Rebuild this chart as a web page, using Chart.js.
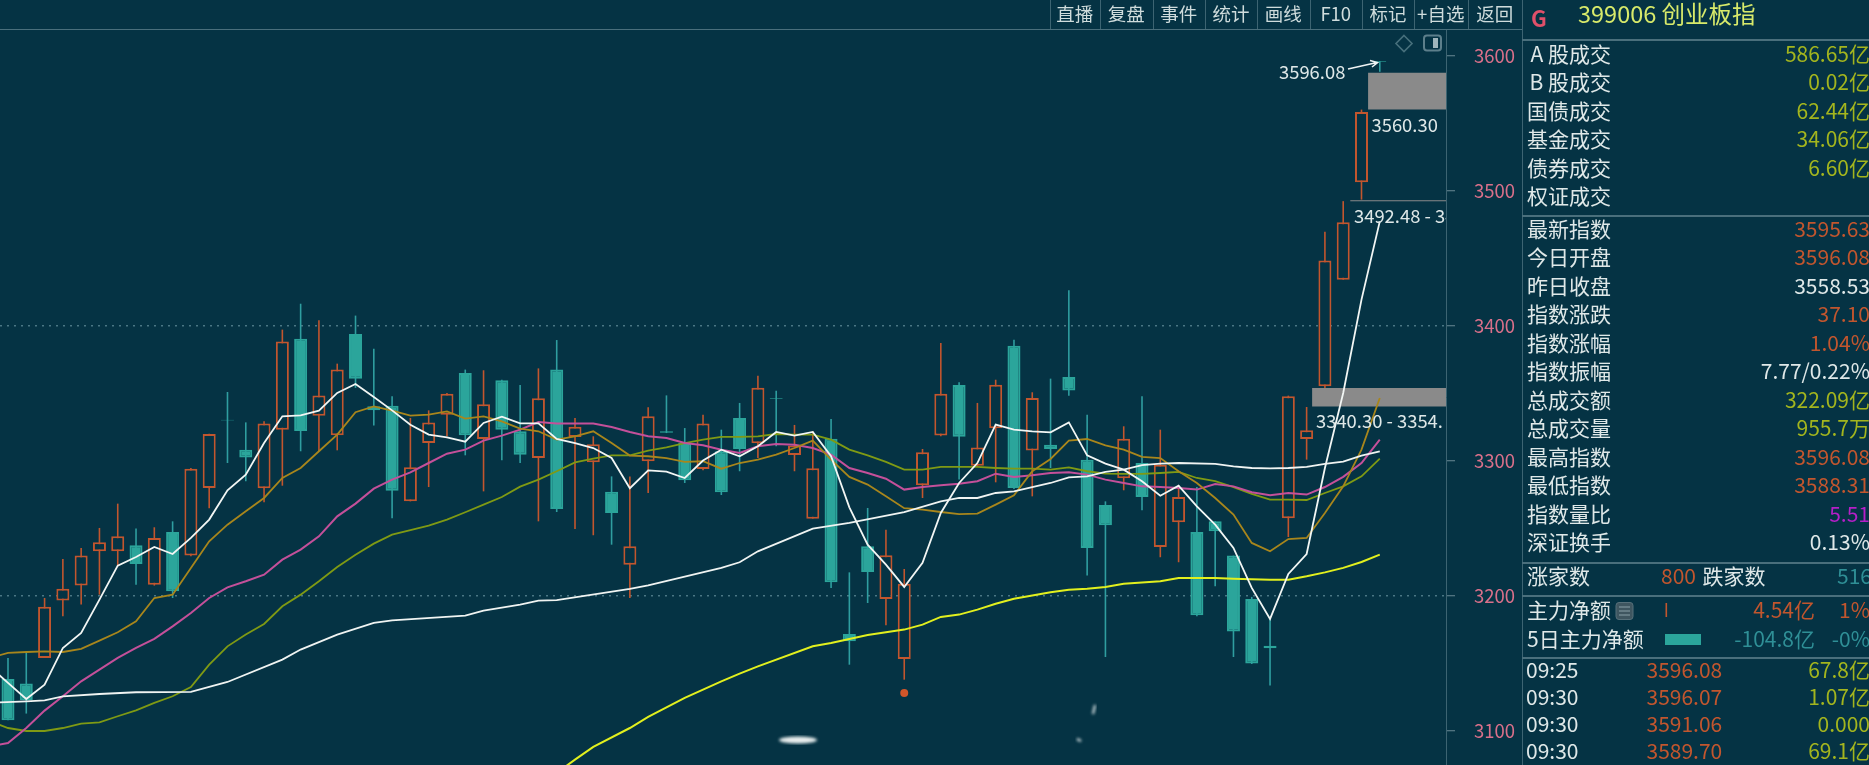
<!DOCTYPE html>
<html><head><meta charset="utf-8">
<script src="https://cdn.jsdelivr.net/npm/chart.js@4/dist/chart.umd.min.js"></script>
<style>
html,body{margin:0;padding:0;background:#053344;width:1869px;height:765px;overflow:hidden;font-family:"Noto Sans CJK SC","Noto Sans",sans-serif;}
canvas{position:absolute;left:0;top:0;}
.t{position:absolute;white-space:nowrap;line-height:1;transform:translateY(-50%);}
.hl{position:absolute;background:#4a6f7c;}
.vl{position:absolute;background:#3d6472;width:1px;}
</style></head><body>
<canvas id="c" width="1869" height="765"></canvas>
<div id="ui"></div>
<svg width="1869" height="765" style="position:absolute;left:0;top:0;pointer-events:none">
<defs><filter id="b"><feGaussianBlur stdDeviation="1.5"/></filter></defs>
<ellipse cx="798" cy="740" rx="19" ry="3.5" fill="#e8eeee" filter="url(#b)"/>
<path d="M1077 739 l4 2 M1095 705 l-2 9" stroke="#e8eeee" stroke-width="2" filter="url(#b)"/>
<path d="M1348 69 L1377 62.5 M1370 60.5 L1377.5 62.5 L1372 67" stroke="#eef3f3" stroke-width="1.6" fill="none"/>
<path d="M1404 35.5 L1412 43.5 L1404 51.5 L1396 43.5 Z" stroke="#47707c" stroke-width="1.6" fill="none"/>
<rect x="1424" y="35.5" width="17" height="15" rx="3" stroke="#5d7f8b" stroke-width="2" fill="none"/>
<rect x="1433" y="38" width="5" height="10" fill="#9fb4bb"/>
<rect x="1616" y="602.5" width="17" height="17" rx="3" fill="#3f5660" stroke="#57707a"/>
<path d="M1619 607 h11 M1619 611 h11 M1619 615 h11" stroke="#8aa0a8" stroke-width="1"/>
<rect x="1665.5" y="603" width="1.6" height="14" fill="#c2562e"/>
<rect x="1665" y="634" width="36" height="11" fill="#2ba59b"/>
</svg>
<script>
const opens=[3138.5,3135.1,3154.1,3196.6,3207.7,3233.1,3233.1,3237.5,3208.4,3247.4,
3229.9,3280,3330.6,3308.4,3279.8,3323.2,3390.6,3333.6,3319,3394.1,
3340.5,3341,3270.1,3313.3,3334.3,3365.2,3316.3,3359.8,3322,3302.2,
3367.7,3317.8,3299,3277.3,3223.2,3299.8,3322,3313.3,3294.1,3307.2,
3331.9,3313.1,3346.4,3304.4,3257.3,3316.5,3171.9,3236.8,3197.8,3153.3,
3282,3318.8,3356.3,3296.5,3324.2,3385.4,3307.7,3312.1,3362.2,3301,
3267.4,3287.2,3298.5,3236.3,3254.6,3247.4,3255.3,3229.9,3197.8,3163.2,
3257.5,3316.3,3355.3,3434.3,3506.4,3596.08];
const closes=[3107.9,3122.7,3192.1,3205.4,3229.9,3239.8,3244.2,3223.7,3243,3203.5,
3294.3,3320,3329.9,3302.5,3327.7,3388.6,3322.2,3348.6,3367.7,3361,
3337.5,3278,3295.3,3328.6,3349.9,3319,3342,3323.2,3304.7,3346.4,
3264.5,3325.4,3312.4,3261.5,3236.8,3333.1,3321,3285.7,3327.7,3276.8,
3308.9,3354.3,3345.9,3311.4,3294.6,3210.1,3166.4,3217.8,3230.1,3209.1,
3306.4,3349.9,3318,3309.9,3356.5,3280,3346.7,3308.9,3352.3,3235.6,
3252.4,3316.5,3273.3,3297.3,3273.3,3185.7,3247.9,3173.6,3149.9,3161.2,
3347.9,3322.7,3448.6,3476.8,3558.53,3595.63];
const highs=[3154.1,3158.3,3198.5,3227.4,3235.6,3250.4,3268.4,3249.9,3250.9,3255.3,
3294.8,3320.2,3351.1,3328.6,3329.4,3397.3,3416.5,3404.2,3372.1,3407.7,
3383.2,3347.9,3331.9,3337.5,3350.4,3367.7,3367.2,3360.2,3356.3,3368.6,
3389.6,3331.9,3318.3,3288.6,3288.6,3339.8,3348.6,3324.4,3334.3,3323.2,
3343,3363.2,3352.1,3326.7,3322,3331.1,3217.5,3265.2,3249.1,3220,
3308.9,3387.4,3358.3,3343,3360.2,3389.9,3350.9,3361,3426.4,3334.3,
3270.1,3325.7,3347.9,3323.2,3281.7,3280.7,3255.3,3229.9,3199.3,3183.7,
3348.4,3340,3469.9,3492.48,3560.3,3596.08];
const lows=[3107.9,3112.9,3154.1,3185,3193.6,3201,3222,3208.4,3207.7,3198.5,
3229.4,3265,3298.5,3285,3269.4,3281.7,3307.2,3307.2,3307.9,3354.1,
3326.2,3257.5,3270.1,3280.7,3318.3,3304.2,3277.5,3300.5,3298.5,3255.3,
3262.2,3249.6,3245,3238,3198.5,3276.3,3320.7,3283.7,3293.1,3274.8,
3292.4,3302.2,3310.9,3292.4,3257.3,3206,3149.1,3194.8,3178.3,3138,
3272.6,3318.3,3286.2,3296,3284.2,3279.3,3273.8,3294.8,3348.4,3215.1,
3154.8,3278.3,3263.5,3228.7,3225,3185,3207.2,3154.8,3149.6,3133.6,
3243.7,3301,3354.1,3434.3,3493.6,3588.31];

const ma5=[3147.9,3135.6,3123.7,3134.3,3161.5,3172.6,3197.3,3222.5,3228.9,3236.3,3231.1,3243,3256.6,3278.3,3289.9,3313.3,3333.1,3333.8,3337.3,3350.4,3357,3347.4,3337.5,3326.9,3319.5,3317.5,3314.3,3328.2,3332.8,3327.9,3327.9,3316.3,3313.3,3309.6,3302.2,3279.8,3293.1,3292.1,3287.4,3300.3,3308.4,3303.5,3310.9,3321.5,3318.8,3321.5,3303.5,3265.7,3238,3223.2,3206.7,3224.5,3261.5,3283.7,3298.5,3326.9,3323.2,3322,3321.2,3328.6,3304.2,3298,3293.6,3285,3274.3,3281.7,3266.4,3252.8,3235.6,3206,3183,3216.3,3231.1,3294.8,3350.4,3419.5,3477.5];
const ma10=[3154.1,3157.8,3158.5,3159,3158.5,3160.8,3166.9,3173.1,3181.2,3198.5,3201,3220.8,3240.5,3252.8,3262.7,3272.6,3287.4,3294.8,3307.2,3319.5,3336.1,3340.5,3337.3,3333.6,3334.3,3336.8,3331.4,3333.1,3329.4,3324,3322,3315.8,3318.3,3322,3313.3,3304,3303.5,3302.2,3299.3,3299.8,3294.3,3298.5,3301,3304.7,3309.6,3315.1,3301,3288.2,3282.5,3273.8,3265,3264,3262.2,3260.7,3261,3267.7,3274.6,3292.4,3301.5,3315.1,3316.3,3311.6,3308.4,3303,3302.2,3292.4,3283.7,3272.6,3260.3,3239.3,3233.1,3242.2,3243,3261.5,3281.2,3308.4,3346.7];
const ma20=[3088.7,3091.1,3102.2,3115.1,3125.7,3136.8,3145.4,3154.1,3161.5,3168.2,3177.5,3187.4,3198.5,3206.4,3210.9,3215.8,3226.9,3234.3,3244.2,3259,3268.4,3279.5,3286.2,3291.6,3298.5,3305.4,3308.4,3315.1,3318.8,3323.2,3328.9,3327.7,3327.7,3327.7,3325.2,3321.5,3318.3,3317,3313.3,3311.6,3308.4,3306,3310.9,3312.6,3312.1,3309.6,3304.7,3294.8,3291.1,3286.9,3278.8,3280.7,3282,3283.2,3285,3290.6,3288.2,3289.4,3291.1,3291.6,3289.9,3286.2,3283.7,3281.2,3280.7,3280,3278.8,3283,3281.2,3276.8,3274.6,3276.3,3275.1,3280.7,3288.2,3298.5,3315.8];
const ma30=[3107.2,3102.2,3100,3100,3102.2,3105.4,3106.4,3110.9,3115.3,3120.8,3125.7,3132.6,3149.1,3162.7,3171.4,3179.3,3192.4,3201,3210.9,3221.5,3230.6,3238.8,3245.4,3248.7,3252.1,3256.6,3262,3267.7,3273.3,3281,3286.2,3292.4,3299,3301.7,3304.2,3304.2,3307.7,3310.1,3313.3,3315.8,3317.8,3317.8,3318.3,3320,3319.5,3319.5,3315.8,3308.4,3304.2,3299.3,3293.6,3293.6,3295.6,3295.6,3295.6,3294.8,3294.3,3294.3,3293.6,3295.3,3292.4,3290.6,3290.4,3290.4,3291.1,3291.9,3287.4,3285,3280.7,3275.6,3271.4,3271.4,3271.1,3276.3,3281.2,3288.6,3301.7];
const ma5Idx=Array.from(ma5.keys()).map(i=>i-1);
const ma60Idx=[-1,1,2,3,5,7,10,12,15,16,18,20,21,25,26,28,29,30,34,35,39,40,41,44,46,49,51,52,53,54,55,57,58,59,60,61,62,63,64,66,67,68,69,70,71,72,73,74,75];
const ma60=[3120.8,3122,3122.7,3125.7,3127.4,3128.7,3129,3136.3,3152.9,3160.3,3171.4,3180,3182,3185.4,3189.1,3193.6,3196.6,3196.9,3205.2,3207.9,3220.8,3225,3233.1,3249.9,3254.1,3262.2,3270.1,3272.6,3272.6,3276.3,3277.5,3283.7,3287.9,3288.6,3291.9,3293.6,3297,3298,3298.5,3297.8,3296,3294.8,3294.6,3294.8,3295.6,3297.8,3299.5,3304,3307.2];
const ma120Idx=[30,31,32,34,35,37,39,40,41,44,45,46,47,48,49,50,51,52,53,54,55,56,57,58,59,60,61,62,63,64,66,67,69,70,71,72,73,74,75];
const ma120=[3068.9,3078.8,3088.2,3102.2,3110.4,3124.5,3136.8,3142.5,3147.9,3162.7,3165.2,3168.2,3171.1,3173.1,3175.1,3178.8,3184.5,3186.2,3189.9,3194.3,3198,3200.3,3202.7,3204.7,3205.4,3206.7,3209.1,3209.9,3210.9,3213.3,3213.3,3212.8,3212.1,3212.1,3214.6,3217.5,3220.8,3225.2,3230.6];
const yTicks=[3100,3200,3300,3400,3500,3600];
const dashedLevels=[3200,3400];
const gapBoxes=[{from:74.36,top:3587.5,bottom:3560.3},{from:73.38,top:3493.1,bottom:3492.48},{from:71.3,top:3354,bottom:3340.3}];
const dotIdx=[49], dotVal=[3128.2];

const toolbar=["直播","复盘","事件","统计","画线","F10","标记","+自选","返回"];
const toolbarEdges=[1049.5,1100,1152.5,1205,1257,1309.5,1362,1414,1467.5,1522];
const block1=[["A 股成交","586.65亿"],["B 股成交","0.02亿"],["国债成交","62.44亿"],["基金成交","34.06亿"],["债券成交","6.60亿"],["权证成交",""]];
const block2=[["最新指数","3595.63"],["今日开盘","3596.08"],["昨日收盘","3558.53"],["指数涨跌","37.10"],["指数涨幅","1.04%"],["指数振幅","7.77/0.22%"],["总成交额","322.09亿"],["总成交量","955.7万"],["最高指数","3596.08"],["最低指数","3588.31"],["指数量比","5.51"],["深证换手","0.13%"]];
const block2Colors=["r","r","w","r","r","w","y","y","r","r","p","w"];
const ticksTable=[["09:25","3596.08","67.8亿"],["09:30","3596.07","1.07亿"],["09:30","3591.06","0.000"],["09:30","3589.70","69.1亿"]];

const BG='#053344',RED='#c2562e',TEAL='#2ba59b',WICKT='#2f9ea0';
const C={r:'#c2562e',w:'#dfe8e8',y:'#a3b51e',p:'#b51fc8',t:'#2f8f96'};
const ui=document.getElementById('ui');
function T(x,y,s,col,size,opt){opt=opt||{};const d=document.createElement('div');d.className='t';d.textContent=s;
 d.style.top=(y-1)+'px';d.style.color=col;d.style.fontSize=size+'px';
 if(opt.right!==undefined){d.style.right=(1869-opt.right)+'px';}else{d.style.left=x+'px';}
 if(opt.maxw){d.style.width=opt.maxw+'px';d.style.overflow='hidden';d.style.lineHeight='1.3';}
 if(opt.center){d.style.transform='translate(-50%,-50%)';}
 if(opt.bold)d.style.fontWeight='700';
 ui.appendChild(d);}
function H(x,y,w,h){const d=document.createElement('div');d.className='hl';d.style.cssText+=`left:${x}px;top:${y}px;width:${w}px;height:${h}px`;ui.appendChild(d);}
function V(x,y,h){const d=document.createElement('div');d.className='vl';d.style.cssText+=`left:${x}px;top:${y}px;height:${h}px`;ui.appendChild(d);}
toolbar.forEach((s,i)=>T((toolbarEdges[i]+toolbarEdges[i+1])/2,13.5,s,'#cfdcdc',18.5,{center:true}));
toolbarEdges.forEach(x=>V(x,0,29));
H(0,28.5,1522,1.5);
V(1522,0,765);
[39,214.5,561.5,594.5,656.5].forEach(y=>H(1522,y,347,2));
T(1531,18,'G','#e0506a',22,{bold:true});
T(1578,15,'399006 创业板指','#d8ea6a',23.5);
block1.forEach((r,i)=>{const y=54+i*28.4;T(0,y,r[0],C.w,21,{right:1611});if(r[1])T(0,y,r[1],C.y,21,{right:1870});});
block2.forEach((r,i)=>{const y=229+i*28.45;T(1527,y,r[0],C.w,21);T(0,y,r[1],C[block2Colors[i]],21,{right:1870});});
T(1527,576,'涨家数',C.w,21);T(1661,576,'800',C.r,21);T(1702.5,576,'跌家数',C.w,21);T(0,576,'516',C.t,21,{right:1872});
T(1527,610,'主力净额',C.w,21);T(0,610,'4.54亿',C.r,21,{right:1815});T(0,610,'1%',C.r,21,{right:1870});
T(1527,639,'5日主力净额',C.w,21);T(0,639,'-104.8亿',C.t,21,{right:1815});T(0,639,'-0%',C.t,21,{right:1870});
ticksTable.forEach((r,i)=>{const y=669.5+i*27;T(1526,y,r[0],C.w,21);T(1646.5,y,r[1],C.r,21);T(0,y,r[2],C.y,21,{right:1870});});
T(1279,72,'3596.08','#dfe8e8',18.4);
T(1371.5,125,'3560.30','#dfe8e8',18.4);
T(1354,217,'3492.48 - 3492.48','#dfe8e8',18.4,{maxw:92});
T(1316,422,'3340.30 - 3354.','#dfe8e8',18.4,{maxw:130});

const idx=opens.map((_,i)=>i);
const isUp=idx.map(i=>closes[i]>=opens[i]);
const line=(xs,ys,color,order,w)=>({type:'line',data:xs.map((x,i)=>({x,y:ys[i]})),borderColor:color,borderWidth:w||1.8,pointRadius:0,tension:0,fill:false,order});
const box=(b)=>({type:'line',data:[{x:b.from,y:b.top},{x:79,y:b.top}],borderWidth:0,borderColor:'transparent',backgroundColor:'#8a8a8a',pointRadius:0,fill:{value:b.bottom},order:20});

new Chart(document.getElementById('c'),{
 type:'bar',
 data:{datasets:[
  line(ma5Idx,ma5,'#f2f6f4',1),
  line(ma5Idx,ma10,'#a8861c',3),
  line(ma5Idx,ma20,'#c4509a',4,2),
  line(ma5Idx,ma30,'#7f9a14',5),
  line(ma60Idx,ma60,'#f0f4f2',2),
  line(ma120Idx,ma120,'#e2f01e',6,2),
  ...gapBoxes.map(box),
  {type:'bar',grouped:false,barThickness:13,data:idx.map(i=>({x:i,y:[opens[i],closes[i]]})),
   backgroundColor:idx.map(i=>isUp[i]?BG:TEAL),borderColor:idx.map(i=>isUp[i]?RED:TEAL),borderWidth:2,borderSkipped:false,inflateAmount:0,order:30},
  {type:'bar',grouped:false,barThickness:1.6,data:idx.map(i=>({x:i,y:[lows[i],highs[i]]})),
   backgroundColor:idx.map(i=>isUp[i]?RED:WICKT),borderWidth:0,inflateAmount:0,order:40},
  {type:'line',data:dotIdx.map((x,i)=>({x,y:dotVal[i]})),showLine:false,pointRadius:4,pointBackgroundColor:'#d2562a',pointBorderWidth:0,order:25}
 ]},
 options:{
  responsive:false,animation:false,devicePixelRatio:1,
  layout:{autoPadding:false,padding:{left:0,right:346,top:29,bottom:0}},
  plugins:{legend:{display:false},tooltip:{enabled:false}},
  scales:{
   x:{type:'linear',display:false,offset:false,min:-0.437,max:78.62,grid:{display:false,offset:false},ticks:{display:false}},
   y:{position:'right',min:3074.8,max:3620,stacked:false,
    afterFit(s){s.width=77;s.paddingTop=0;s.paddingBottom=0;},
    afterBuildTicks(s){s.ticks=yTicks.map(v=>({value:v}));},
    border:{display:true,color:'#3d6472',width:1,dash:[2,5]},
    grid:{color:c=>c.tick&&dashedLevels.includes(c.tick.value)?'#4b7784':'transparent',lineWidth:1.5,
      drawOnChartArea:true,drawTicks:true,tickLength:9,tickColor:'#6a8a94',tickWidth:1},
    ticks:{color:'#d9708a',padding:19,font:{size:18.5,family:'"Noto Sans CJK SC","Noto Sans",sans-serif'},align:'center',callback:v=>String(v)}
   }
  }
 }
});
</script>
</body></html>
